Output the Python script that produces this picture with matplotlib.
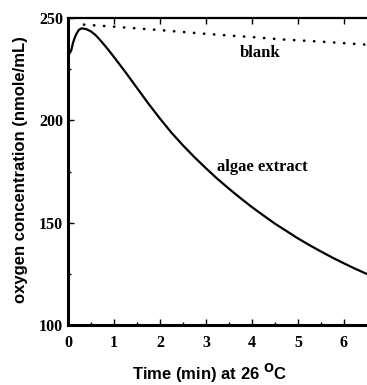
import matplotlib.pyplot as plt
import numpy as np

# データ
t_algae = [0.0, 0.02, 0.04, 0.07, 0.11, 0.15, 0.19, 0.24, 0.3, 0.4, 0.5, 0.6, 0.7, 0.85, 1.0, 1.25, 1.5, 1.75,
           2.0, 2.25, 2.5, 2.75, 3.0, 3.25, 3.5, 3.75, 4.0, 4.25, 4.5, 4.75, 5.0, 5.25, 5.5, 5.75, 6.0,
           6.25, 6.5]
v_algae = [228, 232, 233, 234, 237.8, 240.5, 242.5, 244.3, 245, 244.6, 243.5, 241.7, 239.3, 235.3, 231, 223.6,
           215.9, 208.2, 200.9, 194, 187.8, 182, 176.6, 171.4, 166.6, 162, 157.6, 153.5, 149.5, 145.9,
           142.3, 139, 135.9, 132.9, 130.1, 127.4, 124.9]

t_blank = [0.35, 1.0, 1.9, 3.0, 4.0, 4.7, 5.5, 6.5]
v_blank = [246.8, 245.8, 244.3, 242.3, 240.7, 239.5, 238.5, 237]

fig = plt.figure(figsize=(3.67, 3.85), dpi=100)
ax = fig.add_axes([0.185, 0.156, 0.815, 0.797])

ax.plot(t_algae, v_algae, color='black', lw=1.6)
ax.plot(t_blank, v_blank, color='black', lw=1.9, linestyle=(0, (0.1, 3.7)), dash_capstyle='round')

ax.text(4.17, 233, 'blank', family='Liberation Serif', fontweight='bold', fontsize=12, ha='center', va='center')
ax.text(4.23, 177.3, 'algae extract', family='Liberation Serif', fontweight='bold', fontsize=12, ha='center', va='center')

ax.set_xlim(0, 6.5)
ax.set_ylim(100, 250)
ax.set_xticks(range(0, 7))
ax.set_xticks(np.arange(0.5, 6.5, 1), minor=True)
ax.set_yticks([100, 150, 200, 250])
ax.set_yticks([125, 175, 225], minor=True)
ax.tick_params(which='both', direction='in', top=True, right=False, width=1)
ax.tick_params(which='major', length=4)
ax.tick_params(which='minor', length=2.5, top=False)
for lab in ax.get_xticklabels() + ax.get_yticklabels():
    lab.set_family('Liberation Serif')
    lab.set_fontweight('bold')
    lab.set_fontsize(11.5)
ax.tick_params(axis='x', pad=7)

ax.spines['left'].set_linewidth(2.2)
ax.spines['bottom'].set_linewidth(2.2)
ax.spines['top'].set_linewidth(1.6)
ax.spines['right'].set_visible(False)

# 軸ラベル
fig.text(210 / 367, 1 - 380 / 385, 'Time (min) at 26 $^{\\mathbf{O}}$C', family='Liberation Sans',
         fontweight='bold', fontsize=12, ha='center', va='baseline')
fig.text(21 / 367, 1 - 170 / 385, 'oxygen concentration (nmole/mL)', family='Liberation Sans',
         fontweight='bold', fontsize=12, ha='center', va='center', rotation=90)

plt.savefig('out.png', dpi=100)
